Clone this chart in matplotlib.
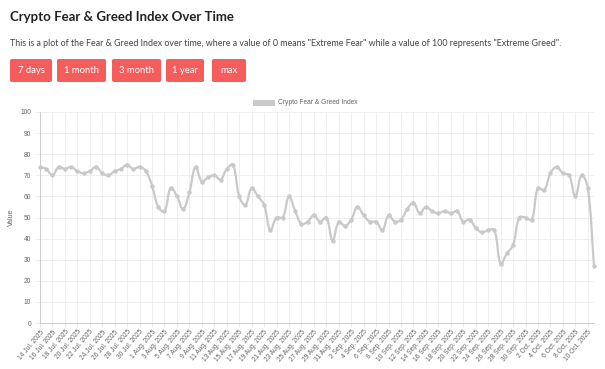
import numpy as np
import matplotlib
matplotlib.use('Agg')
import matplotlib.pyplot as plt
from matplotlib.path import Path
from matplotlib.patches import PathPatch, FancyBboxPatch, Rectangle
import datetime as dt

# data
start_date = dt.date(2025, 7, 14)
fng_values = [74, 73, 70, 74, 73, 74, 72, 71, 72, 74,
              71, 70, 72, 73, 75, 73, 74, 72, 65, 55,
              53, 64, 60, 54, 62, 74, 67, 69, 70, 68,
              73, 75, 60, 56, 64, 60, 56, 44, 50, 50,
              60, 53, 47, 48, 51, 48, 50, 39, 48, 46,
              49, 55, 51, 48, 48, 44, 51, 48, 49, 54,
              57, 52, 55, 53, 52, 53, 52, 53, 48, 49,
              45, 43, 44, 44, 28, 33, 37, 50, 50, 49,
              64, 63, 71, 74, 71, 70, 60, 70, 64, 27]
month_abbr = ['Jan.', 'Feb.', 'Mar.', 'Apr.', 'May', 'Jun.', 'Jul.', 'Aug.', 'Sep.', 'Oct.', 'Nov.', 'Dec.']
dates = [start_date + dt.timedelta(days=i) for i in range(len(fng_values))]
date_labels = [f"{d.day} {month_abbr[d.month - 1]} {d.year}" for d in dates]
button_labels = ['7 days', '1 month', '3 month', '1 year', 'max']

W, H = 605, 369
fig = plt.figure(figsize=(W / 100, H / 100), dpi=100)
fig.patch.set_facecolor('white')

# header
fig.text(10 / W, 1 - 17 / H, 'Crypto Fear & Greed Index Over Time', fontsize=9.5,
         fontweight='bold', color='#222222', family='Lato', va='center', ha='left')
fig.text(10 / W, 1 - 43 / H,
         'This is a plot of the Fear & Greed Index over time, where a value of 0 means '
         '"Extreme Fear" while a value of 100 represents "Extreme Greed".',
         fontsize=6.4, color='#444444', family='Lato', va='center', ha='left')

# buttons
btn_x = [10, 57, 112, 166, 212]
btn_w = [42, 49, 49, 38, 34]
for lbl, bx, bw in zip(button_labels, btn_x, btn_w):
    p = FancyBboxPatch((bx / W, 1 - 82 / H), bw / W, 23 / H,
                       boxstyle='round,pad=0,rounding_size=0.004',
                       transform=fig.transFigure, facecolor='#f55d5d', edgecolor='none')
    fig.patches.append(p)
    fig.text((bx + bw / 2) / W, 1 - 70.5 / H, lbl, fontsize=6.8, color='white',
             family='Lato', ha='center', va='center')

ax = fig.add_axes([40 / W, 1 - 323 / H, 554 / W, 211 / H])
x = np.arange(len(fng_values))
y = np.array(fng_values, dtype=float)
ax.set_xlim(0, len(fng_values) - 1)
ax.set_ylim(0, 100)

# smooth line like chart.js (tension 0.4), control points computed in pixel space
sx = 554 / (len(fng_values) - 1)
sy = 211 / 100
px, py = x * sx, y * sy
t = 0.4
verts = [(x[0], y[0])]
codes = [Path.MOVETO]
cps = []
for i in range(len(x)):
    ip = max(i - 1, 0)
    inx = min(i + 1, len(x) - 1)
    d01 = np.hypot(px[i] - px[ip], py[i] - py[ip])
    d12 = np.hypot(px[inx] - px[i], py[inx] - py[i])
    s01 = d01 / (d01 + d12) if d01 + d12 else 0
    s12 = d12 / (d01 + d12) if d01 + d12 else 0
    fa, fb = t * s01, t * s12
    dx, dy = px[inx] - px[ip], py[inx] - py[ip]
    cp_prev = ((px[i] - fa * dx) / sx, min(max((py[i] - fa * dy) / sy, 0), 100))
    cp_next = ((px[i] + fb * dx) / sx, min(max((py[i] + fb * dy) / sy, 0), 100))
    cps.append((cp_prev, cp_next))
for i in range(1, len(x)):
    verts += [cps[i - 1][1], cps[i][0], (x[i], y[i])]
    codes += [Path.CURVE4] * 3
ax.add_patch(PathPatch(Path(verts, codes), facecolor='none', edgecolor='#c9c9c9', lw=1.6,
                       zorder=3, clip_on=False))
ax.plot(x, y, 'o', color='#c9c9c9', markersize=2.2, zorder=4, clip_on=False)

# axes styling
ax.set_yticks(np.arange(0, 101, 10))
ax.set_xticks(x[::2])
ax.set_xticklabels(date_labels[::2], rotation=50, ha='right', rotation_mode='anchor')
ax.tick_params(axis='both', labelsize=4.8, labelcolor='#666666', color='#e6e6e6', length=3, width=0.6)
ax.tick_params(axis='x', pad=1)
for lab in ax.get_xticklabels() + ax.get_yticklabels():
    lab.set_family('Liberation Sans')
ax.grid(True, color='#ebebeb', lw=0.6)
ax.set_axisbelow(True)
for s in ['top', 'right']:
    ax.spines[s].set_visible(False)
for s in ['left', 'bottom']:
    ax.spines[s].set_color('#cccccc')
    ax.spines[s].set_linewidth(0.7)
ax.set_ylabel('Value', fontsize=5, color='#666666', family='Liberation Sans', labelpad=4)

# legend
fig.patches.append(Rectangle((253 / W, 1 - 106 / H), 22 / W, 6 / H, transform=fig.transFigure,
                             facecolor='#c9c9c9', edgecolor='none'))
fig.text(278 / W, 1 - 103 / H, 'Crypto Fear & Greed Index', fontsize=4.8, color='#666666',
         family='Liberation Sans', va='center', ha='left')

fig.savefig('out.png', dpi=100)
